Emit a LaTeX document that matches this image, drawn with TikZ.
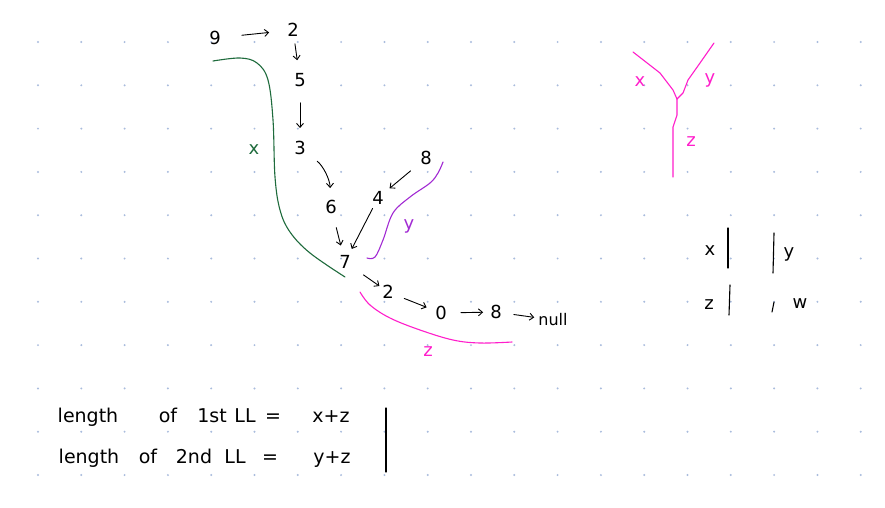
\documentclass[tikz,border=0pt]{standalone}
\usepackage{fontspec}
\setmainfont{DejaVu Sans}
\usetikzlibrary{arrows.meta}
\definecolor{gridblue}{HTML}{A9BCDD}
\definecolor{xgreen}{HTML}{1E6B3C}
\definecolor{ypurple}{HTML}{A22BD3}
\definecolor{zpink}{HTML}{FF1ECB}
\begin{document}
\begin{tikzpicture}[x=1pt,y=-1pt,
  num/.style={inner sep=1pt, font=\fontsize{18}{18}\selectfont},
  lbl/.style={inner sep=1pt, font=\fontsize{18}{18}\selectfont},
  word/.style={inner sep=0pt, anchor=base, font=\fontsize{19}{19}\selectfont},
  arr/.style 2 args={-{Straight Barb[length=4pt,width=7pt]}, line width=0.9pt, line cap=round, shorten <=#1pt, shorten >=#2pt},
  pen/.style={line width=1.1pt, line cap=round, line join=round},
  bar/.style={line width=1.1pt, line cap=round}]
\useasboundingbox (0,0) rectangle (885,507);
\fill[white] (0,0) rectangle (885,507);
\foreach \i in {0,...,19} \foreach \j in {0,...,10}
  \fill[gridblue] ({38+43.3*\i},{42+43.3*\j}) circle (1.1pt);
% first list
\node[num] (n9) at (215,38) {9};
\node[num] (n2) at (293,30) {2};
\node[num] (n5) at (300,80) {5};
\node[num] (n3) at (300,148) {3};
\node[num] (n6) at (331,207) {6};
\node[num] (n7) at (345,262) {7};
\node[num] (n4) at (378,198) {4};
\node[num] (n8) at (426,158) {8};
\node[num] (m2) at (388,292) {2};
\node[num] (m0) at (441,313) {0};
\node[num] (m8) at (496,312) {8};
\node[num, font=\fontsize{16}{16}\selectfont] (mnull) at (553,320) {null};
\draw[arr={20}{17}] (n9) -- (n2);
\draw[arr={6}{12}] (n2) -- (n5);
\draw[arr={15}{12}] (n5) -- (n3);
\draw[arr={13}{11}, bend left=25] (n3) to (n6);
\draw[arr={13}{9}] (n6) -- (n7);
\draw[arr={11}{6}] (n8) -- (n4);
\draw[arr={3}{6}] (n4) -- (n7);
\draw[arr={14}{2}] (n7) -- (m2);
\draw[arr={10}{8}] (m2) -- (m0);
\draw[arr={13}{6}] (m0) -- (m8);
\draw[arr={11}{3}] (m8) -- (mnull);
% braces
\draw[xgreen, pen] plot[smooth, tension=0.6] coordinates {(213,61) (240,58) (257,63) (268,80) (273,120) (275,177) (280,210) (290,232) (310,253) (345,277)};
\node[lbl, text=xgreen] (lx) at (254,150) {x};
\draw[ypurple, pen] plot[smooth, tension=0.6] coordinates {(367,258) (375,257) (383,240) (393,213) (410,197) (430,183) (438,173) (443,162)};
\node[lbl, text=ypurple] (ly) at (409,226) {y};
\draw[zpink, pen] plot[smooth, tension=0.6] coordinates {(360,292) (370,305) (390,318) (420,330) (453,340) (480,343) (512,342)};
\node[lbl, text=zpink] (lz) at (428,352) {z};
% Y figure
\coordinate (yj) at (677,99);
\draw[zpink, pen] (633,52) -- (660,73) -- (673,90) -- (yj);
\draw[zpink, pen] (714,43) -- (700,63) -- (688,80) -- (683,93) -- (yj);
\draw[zpink, pen] (yj) -- (677,115) -- (673,127) -- (673,177);
\node[lbl, text=zpink] (yx) at (640,82) {x};
\node[lbl, text=zpink] (yy) at (710,80) {y};
\node[lbl, text=zpink] (yz) at (691,142) {z};
% table
\node[lbl] (tx) at (710,251) {x};
\draw[bar] (728,228) -- (728,268);
\draw[bar] (774,233) -- (773,273);
\node[lbl] (ty) at (789,254) {y};
\node[lbl] (tz) at (709,305) {z};
\draw[bar] (730,285) -- (729,315);
\draw[bar] (774,302) -- (772,312);
\node[lbl] (tw) at (800,304) {w};
% lengths
\node[word] (a1) at (88,422) {length};
\node[word] (a2) at (168,422) {of};
\node[word] (a3) at (212,422) {1st};
\node[word] (a4) at (245,422) {LL};
\node[word] (a5) at (273,422) {=};
\node[word] (a6) at (331,422) {x+z};
\node[word] (b1) at (89,463) {length};
\node[word] (b2) at (148,463) {of};
\node[word] (b3) at (194,463) {2nd};
\node[word] (b4) at (235,463) {LL};
\node[word] (b5) at (270,463) {=};
\node[word] (b6) at (332,463) {y+z};
\draw[bar] (386,408) -- (386,472);
\end{tikzpicture}
\end{document}
